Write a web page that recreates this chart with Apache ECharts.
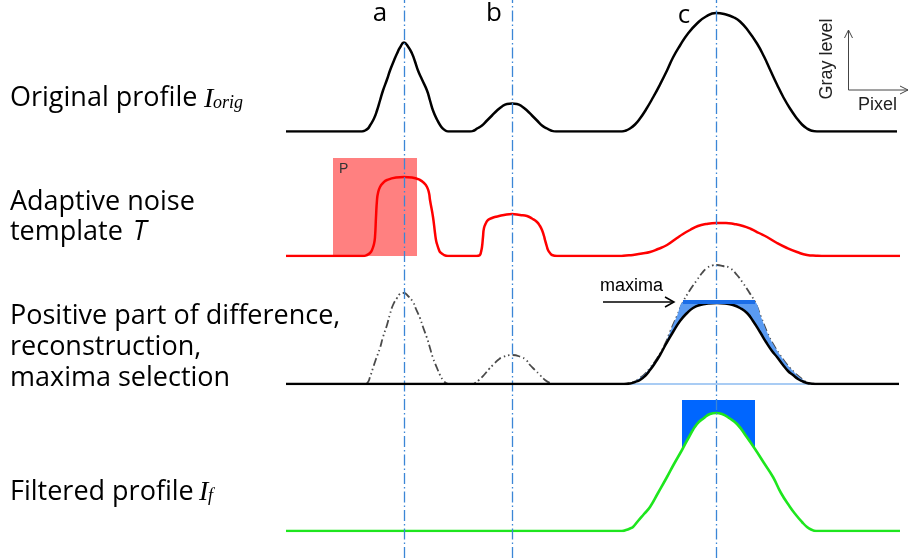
<!DOCTYPE html>
<html>
<head>
<meta charset="utf-8">
<script src="https://cdn.jsdelivr.net/npm/echarts@6/dist/echarts.min.js"></script>
<style>
  html, body { margin: 0; padding: 0; background: #fff; }
  #chart { width: 909px; height: 558px; }
</style>
</head>
<body>
<div id="chart"></div>
<script>
// Profile samples: [pixel index, gray level]
const originalProfile = [
  [0, 0], [76, 0], [79, 1], [82, 3], [84, 6], [88, 13], [91, 21], [94, 31], [97, 41], [101, 52], [104, 61],
  [108, 71], [111, 78], [114, 84], [118, 89], [122, 85], [126, 78], [129, 70], [132, 61], [136, 52],
  [141, 41], [144, 31], [147, 21], [151, 12], [155, 5], [158, 2], [162, 0],
  [184, 0], [188, 1], [191, 3], [196, 6], [201, 11], [206, 16], [211, 21], [216, 25], [221, 27.5], [226, 28],
  [231, 27.5], [236, 25], [241, 21], [246, 16], [251, 11], [256, 6], [261, 3], [265, 1], [270, 0],
  [336, 0], [340, 1], [344, 3], [349, 7], [354, 13], [360, 22], [367, 34], [374, 47], [381, 61], [387, 74],
  [394, 86], [402, 98], [411, 108], [420, 115], [430, 118.5], [440, 117], [448, 114], [454, 110], [462, 101],
  [471, 88], [478, 75], [484, 62], [491, 47], [497, 35], [504, 23], [511, 13], [516, 7], [521, 3], [525, 1],
  [531, 0], [611, 0]
];
const noiseTemplate = [
  [0, 0], [77, 0], [81, 1], [84, 3], [86, 6], [88, 12], [89, 19], [90, 39], [91, 56], [92, 63], [94, 69],
  [97, 73], [101, 76], [110, 78.5], [118, 79], [126, 78.5], [134, 76], [138, 73], [141, 69], [143, 63],
  [144, 56], [147, 39], [149, 23], [150, 16], [151, 12], [153, 6], [154, 4], [158, 1], [162, 0],
  [190, 0], [193, 0.5], [194, 1], [195, 4], [196, 9], [197, 19], [198, 28], [200, 33], [202, 36], [206, 38],
  [211, 39.5], [218, 41], [226, 42], [234, 41], [241, 40], [246, 37.5], [251, 34], [254, 30], [256, 26],
  [258, 20], [259, 16], [261, 9], [262, 6], [264, 3], [266, 1], [271, 0],
  [334, 0], [340, 0.5], [347, 1], [356, 2.5], [364, 4], [372, 7], [381, 11], [391, 18], [397, 22], [404, 26],
  [412, 30], [420, 32], [430, 33], [440, 33], [448, 32], [457, 30], [465, 27], [473, 23], [481, 19],
  [491, 13], [501, 8], [511, 4], [521, 1], [530, 0.3], [540, 0], [614, 0]
];
const differenceOutline = [
  [0, 0], [79, 0], [82, 2], [84, 7], [87, 16], [90, 25], [94, 36], [97, 47], [101, 59], [104, 70], [107, 79],
  [111, 86], [114, 90], [118, 91], [122, 88], [127, 82], [130, 75], [134, 66], [137, 57], [141, 46],
  [144, 36], [147, 26], [151, 16], [154, 9], [157, 4], [160, 1], [164, 0],
  [186, 0], [189, 1], [193, 4], [198, 9], [203, 15], [207, 19], [212, 24], [217, 27], [226, 29], [235, 27],
  [240, 24], [244, 19], [249, 14], [254, 9], [259, 4], [264, 1], [268, 0],
  [338, 0], [344, 1], [349, 3], [354, 6], [359, 10], [364, 16], [370, 24], [375, 32], [380, 42], [384, 52],
  [391, 68], [397, 82], [404, 94], [411, 104], [416, 111], [421, 116], [426, 118.5], [431, 119], [437, 118],
  [444, 116], [451, 109], [457, 101], [463, 92], [469, 82], [475, 67], [481, 52], [487, 40], [494, 29],
  [499, 22], [504, 16], [508, 12], [511, 9], [516, 5], [521, 1.5], [526, 0.3], [531, 0], [613, 0]
];
const positiveDifference = [
  [0, 0], [338, 0], [344, 0.5], [349, 2], [354, 4], [359, 8], [364, 14], [369, 21], [374, 29], [380, 40],
  [387, 52], [394, 63], [401, 71], [407, 76], [414, 79], [422, 80.5], [431, 81], [439, 80.5], [447, 79],
  [454, 76], [461, 71], [467, 63], [474, 52], [480, 42], [486, 33], [491, 27], [497, 19], [502, 13],
  [507, 9], [512, 5], [517, 2.5], [521, 1], [526, 0.3], [531, 0], [613, 0]
];
const filteredProfile = [
  [0, 0], [336, 0], [340, 1], [344, 2.5], [347, 4], [352, 10], [358, 17], [364, 24], [372, 38], [381, 54],
  [388, 67], [396, 81], [403, 94], [411, 107], [418, 113], [424, 117], [430, 118], [436, 117], [443, 113],
  [451, 107], [460, 95], [469, 82], [478, 68], [487, 54], [495, 38], [504, 24], [510, 16], [516, 9],
  [521, 4], [525, 1.5], [530, 0], [614, 0]
];
const peakPositions = [118, 226, 430.5];
const peakNames = ['a', 'b', 'c'];
const templateWindow = [47, 131];
const templateWindowLevel = 98;
const maximaRange = [397, 469];
const maximaLevel = 82;
const selectionRange = [396, 469];
const selectionLevel = 131;
const reconstructionSpan = [349, 526];

// reconstruction: difference outline clipped at the selected maxima level
const reconstruction = differenceOutline
  .filter(p => p[0] >= reconstructionSpan[0] && p[0] <= reconstructionSpan[1])
  .map(p => [p[0], Math.min(p[1], maximaLevel)]);

// Layout of the four stacked plots (pixel baseline and height of each)
const PLOT_LEFT = 286, PLOT_WIDTH = 614, X_MAX = 614;
const rows = [
  { baseline: 131.5, height: 125 },
  { baseline: 256, height: 125 },
  { baseline: 384, height: 125 },
  { baseline: 531, height: 140 }
];

const grids = rows.map(r => ({ left: PLOT_LEFT, width: PLOT_WIDTH, top: r.baseline - r.height, height: r.height }));
grids.push({ left: PLOT_LEFT, width: PLOT_WIDTH, top: 0, height: 558 });
const xAxes = grids.map((g, i) => ({ type: 'value', gridIndex: i, min: 0, max: X_MAX, show: false }));
const yAxes = grids.map((g, i) => ({ type: 'value', gridIndex: i, min: 0, max: i < rows.length ? rows[i].height : 1, show: false }));

function curve(idx, data, extra) {
  return Object.assign({
    type: 'line', xAxisIndex: idx, yAxisIndex: idx, data: data, symbol: 'none',
    smooth: 0.5, silent: true, animation: false
  }, extra);
}
function block(range, level) {
  return [[range[0], 0], [range[0], level], [range[1], level], [range[1], 0]];
}
const hidden = { opacity: 0, width: 0 };

const series = [
  // original profile
  curve(0, originalProfile, { lineStyle: { color: '#000', width: 2.5 }, z: 3 }),
  // adaptive noise template with its window P
  curve(1, block(templateWindow, templateWindowLevel), { smooth: false, lineStyle: hidden, areaStyle: { color: '#ff8080', opacity: 1 }, z: 2 }),
  curve(1, noiseTemplate, { lineStyle: { color: '#ff0000', width: 2.5 }, z: 3 }),
  // positive difference, reconstruction, maxima
  curve(2, differenceOutline, { lineStyle: { color: '#4a4a4a', width: 1.8, type: [8, 3, 1.5, 3, 1.5, 3] }, z: 2 }),
  curve(2, reconstruction, { smooth: 0.3, lineStyle: hidden, areaStyle: { color: '#5a9bf2', opacity: 1 }, z: 3 }),
  curve(2, positiveDifference, { lineStyle: hidden, areaStyle: { color: '#fff', opacity: 1 }, z: 4 }),
  curve(2, [[reconstructionSpan[0] - 5, 0], [reconstructionSpan[1], 0]], { smooth: false, lineStyle: { color: '#a9ccf4', width: 2 }, z: 5 }),
  curve(2, positiveDifference, { lineStyle: { color: '#000', width: 2.5 }, z: 6 }),
  curve(2, [[maximaRange[0], maximaLevel], [maximaRange[1], maximaLevel]], { smooth: false, lineStyle: { color: '#1a6de8', width: 4 }, z: 7 }),
  // filtered profile with the selected window
  curve(3, block(selectionRange, selectionLevel), { smooth: false, lineStyle: hidden, areaStyle: { color: '#0066ff', opacity: 1 }, z: 2 }),
  curve(3, filteredProfile, { lineStyle: { color: '#1ee61e', width: 2.6 }, areaStyle: { color: '#fff', opacity: 1 }, z: 3 }),
  // peak guides
  {
    type: 'line', xAxisIndex: 4, yAxisIndex: 4, data: [], z: 10, silent: true, animation: false,
    markLine: {
      silent: true, symbol: ['none', 'none'], label: { show: false }, animation: false,
      lineStyle: { color: '#3b86d6', width: 1.3, type: [11, 3, 1.5, 3] },
      data: peakPositions.map(x => ({ xAxis: x }))
    }
  }
];

// text helpers (y given as the text baseline)
const SANS = '"Open Sans", "Noto Sans", sans-serif';
const SERIF = '"Liberation Serif", "DejaVu Serif", serif';
const ARIAL = '"Liberation Sans", Arial, sans-serif';
const MID = { [SANS]: 0.388, [SERIF]: 0.3375, [ARIAL]: 0.3465 };
function txt(text, x, baseline, size, family, extra) {
  const style = Object.assign({ text: text, x: 0, y: 0, fontSize: size, fontFamily: family, fill: '#000', align: 'left', verticalAlign: 'middle' }, extra || {});
  return { type: 'text', x: x, y: baseline - MID[family] * size, z: 100, silent: true, style: style };
}
function poly(points, width, color) {
  return { type: 'polyline', z: 100, silent: true, shape: { points: points }, style: { stroke: color || '#000', lineWidth: width, fill: null } };
}

const peakLabelSpots = [[380, 23.5], [494, 24], [684, 25.5]];
const graphic = [
  ...peakNames.map((n, i) => txt(n, peakLabelSpots[i][0], peakLabelSpots[i][1], 26, SANS, { align: 'center' })),
  txt('Original profile', 10, 109, 27, SANS),
  txt('I', 204, 109, 28, SERIF, { fontStyle: 'italic' }),
  txt('orig', 213, 109, 18, SERIF, { fontStyle: 'italic' }),
  txt('Adaptive noise', 10, 213, 27, SANS),
  txt('template', 10, 243, 27, SANS),
  txt('T', 133, 243, 27, SANS, { fontStyle: 'italic' }),
  txt('Positive part of difference,', 10, 326.5, 27, SANS),
  txt('reconstruction,', 10, 357.5, 27, SANS),
  txt('maxima selection', 10, 389, 27, SANS),
  txt('Filtered profile', 10, 502.5, 27, SANS),
  txt('I', 199, 502.5, 28, SERIF, { fontStyle: 'italic' }),
  txt('f', 208, 502.5, 18, SERIF, { fontStyle: 'italic' }),
  txt('P', 339, 174, 14, ARIAL, { fill: '#333' }),
  txt('maxima', 600, 292, 18, ARIAL),
  poly([[603, 302], [673, 302]], 1.5),
  poly([[665, 297], [674, 302], [665, 307]], 1.5),
  // gray level / pixel axes
  poly([[848.5, 90], [848.5, 30]], 1, '#444'),
  poly([[844.5, 38], [848.5, 30], [852.5, 38]], 1, '#444'),
  poly([[848.5, 90], [908, 90]], 1, '#444'),
  poly([[900, 86], [908, 90], [900, 94]], 1, '#444'),
  {
    type: 'text', x: 827.3, y: 59, rotation: Math.PI / 2, z: 100, silent: true,
    style: { text: 'Gray level', x: 0, y: 0, fontSize: 18, fontFamily: ARIAL, fill: '#222', align: 'center', verticalAlign: 'middle' }
  },
  txt('Pixel', 858, 111, 18, ARIAL, { fill: '#222' })
];

const chart = echarts.init(document.getElementById('chart'), null, { renderer: 'canvas' });
chart.setOption({
  animation: false,
  backgroundColor: '#fff',
  grid: grids,
  xAxis: xAxes,
  yAxis: yAxes,
  series: series,
  graphic: graphic
});
</script>
</body>
</html>
